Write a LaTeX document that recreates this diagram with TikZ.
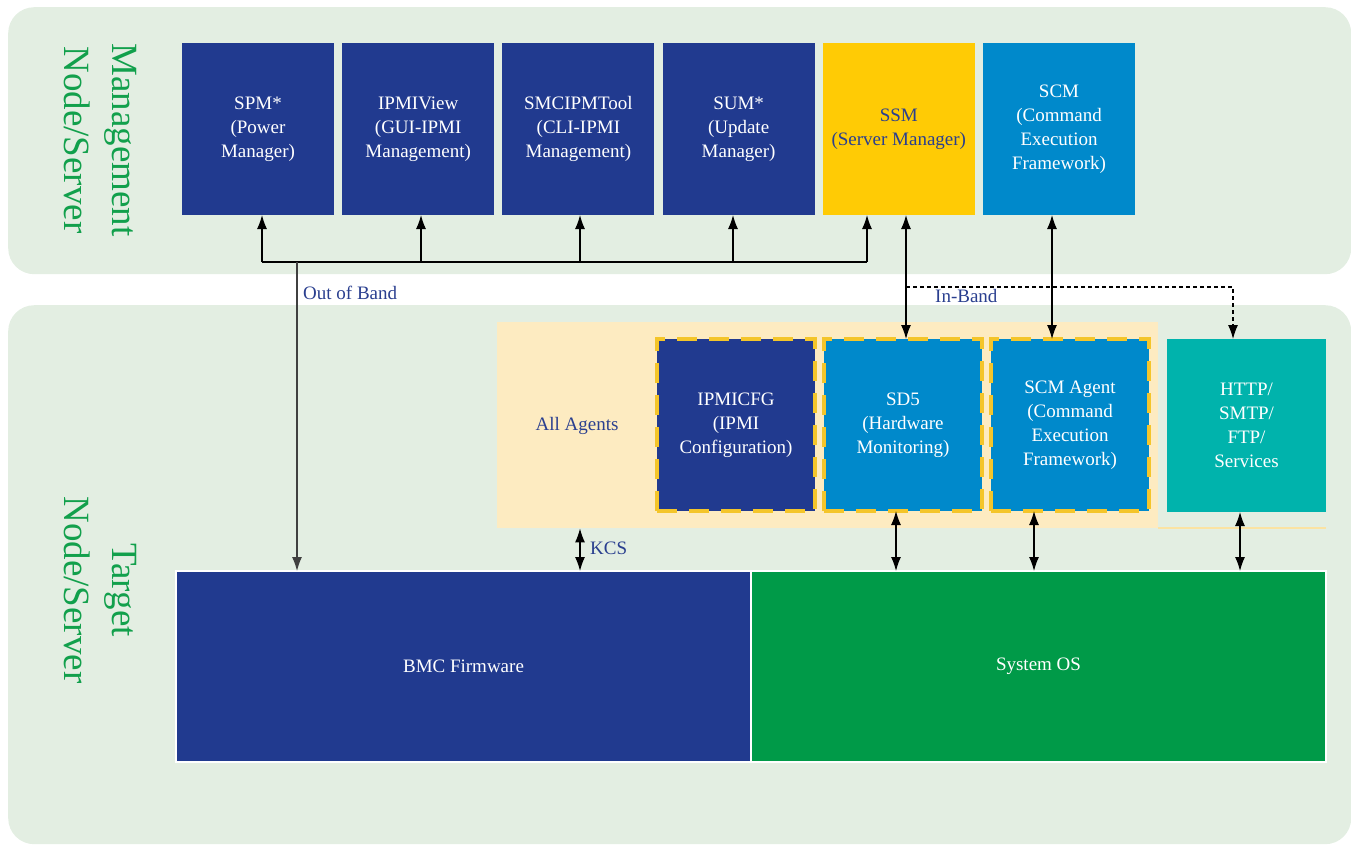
\documentclass[tikz,border=0pt]{standalone}
\usepackage{fontspec}
\setmainfont{Liberation Serif}
\usetikzlibrary{arrows.meta, positioning}
\definecolor{panelgreen}{HTML}{E3EEE2}
\definecolor{navy}{HTML}{213A8F}
\definecolor{skyblue}{HTML}{0089CB}
\definecolor{ssmyellow}{HTML}{FFCB05}
\definecolor{tealbox}{HTML}{00B3AC}
\definecolor{osgreen}{HTML}{009A48}
\definecolor{agentbg}{HTML}{FDEBC1}
\definecolor{dashyellow}{HTML}{F4C52A}
\definecolor{labelblue}{HTML}{2A3F8F}
\definecolor{sidegreen}{HTML}{12A04C}
\newcommand{\boxfont}{\rmfamily\fontsize{19pt}{24pt}\selectfont}
\tikzset{
  panel/.style={
    rectangle,
    rounded corners=26pt,
    fill=panelgreen,
    anchor=north west,
    inner sep=0pt
  },
  toolbox/.style={
    rectangle,
    fill=navy,
    text=white,
    align=center,
    minimum width=152pt,
    minimum height=172pt,
    inner sep=0pt,
    outer sep=0pt,
    font=\boxfont
  },
  agentbox/.style={
    rectangle,
    fill=navy,
    text=white,
    draw=dashyellow,
    line width=4.5pt,
    dash pattern=on 20pt off 12pt,
    align=center,
    minimum width=158pt,
    minimum height=172pt,
    inner sep=0pt,
    outer sep=0pt,
    font=\boxfont
  },
  basebox/.style={
    rectangle,
    draw=white,
    line width=1.5pt,
    text=white,
    minimum width=575pt,
    minimum height=191pt,
    inner sep=0pt,
    outer sep=0pt,
    font=\boxfont
  },
  sidelabel/.style={text=sidegreen, align=center, rotate=-90, font=\rmfamily\fontsize{37pt}{48pt}\selectfont},
  note/.style={text=labelblue, font=\boxfont, anchor=west, inner sep=0pt},
  line/.style={line width=1.2pt},
  arrow/.style={-{Latex[length=14pt, width=10pt]}, line width=1.2pt},
  dblarrow/.style={{Latex[length=14pt, width=10pt]}-{Latex[length=14pt, width=10pt]}, line width=1.2pt},
  dasharrow/.style={-{Latex[length=14pt, width=10pt]}, line width=1.2pt, dash pattern=on 4pt off 3pt}
}
\begin{document}
\begin{tikzpicture}[x=1pt, y=-1pt]
\useasboundingbox (0,0) rectangle (1351,844);
% background panels
\node[panel, minimum width=1343pt, minimum height=267pt] (mgmt) at (8,7) {};
\node[panel, minimum width=1343pt, minimum height=539pt] (target) at (8,305) {};
\node[sidelabel] (mgmtlbl) at (100,140) {Management\\Node/Server};
\node[sidelabel] (targetlbl) at (100,590) {Target\\Node/Server};

% management tools
\node[toolbox, anchor=north west] (spm) at (182,43) {SPM*\\(Power\\Manager)};
\node[toolbox, right=8.2pt of spm] (ipmiview) {IPMIView\\(GUI-IPMI\\Management)};
\node[toolbox, right=8.2pt of ipmiview] (smcipmtool) {SMCIPMTool\\(CLI-IPMI\\Management)};
\node[toolbox, right=8.2pt of smcipmtool] (sum) {SUM*\\(Update\\Manager)};
\node[toolbox, right=8.2pt of sum, fill=ssmyellow, text=labelblue] (ssm) {SSM\\(Server Manager)};
\node[toolbox, right=8.2pt of ssm, fill=skyblue] (scm) {SCM\\(Command\\Execution\\Framework)};

% agents on the target
\node[rectangle, fill=agentbg, anchor=north west, minimum width=661pt, minimum height=206pt, inner sep=0pt] (allagents) at (497,322) {};
\draw[agentbg!80!dashyellow, line width=2pt] (allagents.south east) -- ++(168,0);
\node[note, anchor=center] (agentlbl) at (577,426) {All Agents};
\node[agentbox, anchor=north west] (ipmicfg) at (657,339) {IPMICFG\\(IPMI\\Configuration)};
\node[agentbox, right=9pt of ipmicfg, fill=skyblue] (sd5) {SD5\\(Hardware\\Monitoring)};
\node[agentbox, right=9pt of sd5, fill=skyblue] (scmagent) {SCM Agent\\(Command\\Execution\\Framework)};
\node[toolbox, anchor=north west, fill=tealbox, minimum width=159pt, minimum height=173pt] (http) at (1167,339) {HTTP/\\SMTP/\\FTP/\\Services};

% firmware and os
\node[basebox, anchor=north west, fill=navy] (bmc) at (176,571) {BMC Firmware};
\node[basebox, right=0pt of bmc, fill=osgreen] (os) {System OS};

% out of band
\coordinate (bus1) at (262,262);
\coordinate (bus2) at (421,262);
\coordinate (bus3) at (580,262);
\coordinate (bus4) at (733,262);
\coordinate (bus5) at (867,262);
\coordinate (oob) at (297,262);
\draw[line] (bus1) -- (bus5);
\draw[arrow] (bus1) -- (bus1 |- spm.south);
\draw[arrow] (bus2) -- (bus2 |- ipmiview.south);
\draw[arrow] (bus3) -- (bus3 |- smcipmtool.south);
\draw[arrow] (bus4) -- (bus4 |- sum.south);
\draw[arrow] (bus5) -- (bus5 |- ssm.south);
\draw[arrow, draw=black!75] (oob) -- (oob |- bmc.north);
\node[note] (ooblbl) at (303,293) {Out of Band};

% in band
\coordinate (inband) at (906,287);
\coordinate (httpin) at (1233,287);
\coordinate (scmline) at (1052,287);
\draw[dblarrow] (ssm.south -| inband) -- (sd5.north -| inband);
\draw[dblarrow] (scm.south -| scmline) -- (scmagent.north -| scmline);
\draw[dasharrow] (inband) -- (httpin) -- (httpin |- http.north);
\node[note] (inbandlbl) at (935,296) {In-Band};

% links down to firmware and os
\coordinate (kcs) at (580,548);
\coordinate (sd5link) at (896,548);
\coordinate (scmlink) at (1034,548);
\coordinate (httplink) at (1240,548);
\draw[dblarrow] (allagents.south -| kcs) -- (bmc.north -| kcs);
\node[note] (kcslbl) at (590,548) {KCS};
\draw[dblarrow] (sd5.south -| sd5link) -- (os.north -| sd5link);
\draw[dblarrow] (scmagent.south -| scmlink) -- (os.north -| scmlink);
\draw[dblarrow] (http.south -| httplink) -- (os.north -| httplink);
\end{tikzpicture}
\end{document}
